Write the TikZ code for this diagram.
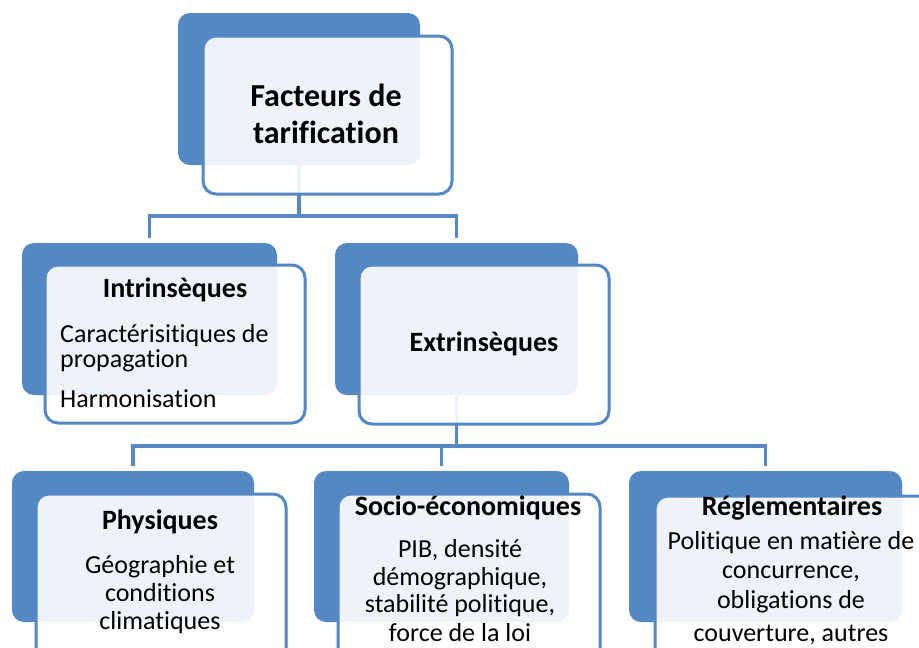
\documentclass[tikz,border=0pt]{standalone}
\usepackage{fontspec}
\setmainfont{Carlito}[Ligatures={NoCommon}]
\definecolor{boxblue}{RGB}{84,136,196}
\tikzset{
  backbox/.style={rectangle, rounded corners=12pt, fill=boxblue, draw=none, inner sep=0pt},
  frontbox/.style={rectangle, rounded corners=13pt, fill=white, fill opacity=0.9, draw=boxblue, draw opacity=1, line width=3pt, inner sep=0pt},
  conn/.style={draw=boxblue, line width=3.4pt},
  toptxt/.style={inner sep=0pt, anchor=base, font=\fontsize{32}{38}\selectfont\bfseries},
  headtxt/.style={inner sep=0pt, anchor=base, font=\fontsize{28}{34}\selectfont\bfseries},
  bodytxt/.style={inner sep=0pt, anchor=base, font=\fontsize{26}{31}\selectfont},
  bodyleft/.style={inner sep=0pt, anchor=base west, font=\fontsize{26}{31}\selectfont}
}
\begin{document}
\begin{tikzpicture}[x=1pt,y=-1pt]
\useasboundingbox (0,0) rectangle (919,648);
\clip (0,0) rectangle (919,648);
\fill[white] (0,0) rectangle (919,648);

% back boxes
\node[backbox, minimum width=242pt, minimum height=152pt] (Fb) at (299,89) {};
\node[backbox, minimum width=255pt, minimum height=152pt] (Ib) at (149.5,319) {};
\node[backbox, minimum width=243pt, minimum height=152pt] (Eb) at (456.5,319) {};
\node[backbox, minimum width=242pt, minimum height=151pt] (Pb) at (133,546.5) {};
\node[backbox, minimum width=255pt, minimum height=151pt] (Sb) at (441.5,546.5) {};
\node[backbox, minimum width=273pt, minimum height=151pt] (Rb) at (765.5,546.5) {};

% connectors
\coordinate (bus1) at (0,216);
\coordinate (bus2) at (0,446);
\draw[conn] (Fb.south) -- (Fb.south |- bus1);
\draw[conn, shorten >=5pt] (Fb.south |- bus1) -| (Ib.north);
\draw[conn, shorten >=5pt] (Fb.south |- bus1) -| (Eb.north);
\draw[conn] (Eb.south) -- (Eb.south |- bus2);
\draw[conn, shorten >=5pt] (Eb.south |- bus2) -| (Pb.north);
\draw[conn, shorten >=5pt] (Eb.south |- bus2) -| (Sb.north);
\draw[conn, shorten >=5pt] (Eb.south |- bus2) -| (Rb.north);

% front boxes
\node[frontbox, minimum width=249pt, minimum height=158pt] (Ff) at (327.5,115) {};
\node[frontbox, minimum width=260pt, minimum height=158pt] (If) at (175,344) {};
\node[frontbox, minimum width=250pt, minimum height=159pt] (Ef) at (484,344.5) {};
\node[frontbox, minimum width=250pt, minimum height=171pt] (Pf) at (161,579.5) {};
\node[frontbox, minimum width=262pt, minimum height=171pt] (Sf) at (469,579.5) {};
\node[frontbox, minimum width=280pt, minimum height=169pt] (Rf) at (795,580.5) {};

% texts
\node[toptxt] (t1) at (326,106) {Facteurs de};
\node[toptxt] (t2) at (326,143) {tarification};

\node[headtxt] (i0) at (175,297) {Intrinsèques};
\node[bodyleft] (i1) at (60,342) {Caractérisitiques de};
\node[bodyleft] (i2) at (60,367) {propagation};
\node[bodyleft] (i3) at (60,407) {Harmonisation};

\node[headtxt] (e0) at (484,351) {Extrinsèques};

\node[headtxt] (p0) at (160,529) {Physiques};
\node[bodytxt] (p1) at (160,573) {Géographie et};
\node[bodytxt] (p2) at (160,601) {conditions};
\node[bodytxt] (p3) at (160,629) {climatiques};

\node[headtxt] (s0) at (468,515) {Socio-économiques};
\node[bodytxt] (s1) at (460,557) {PIB, densité};
\node[bodytxt] (s2) at (460,585) {démographique,};
\node[bodytxt] (s3) at (460,612) {stabilité politique,};
\node[bodytxt] (s4) at (460,641) {force de la loi};

\node[headtxt] (r0) at (792,515) {Réglementaires};
\node[bodytxt] (r1) at (791,549) {Politique en matière de};
\node[bodytxt] (r2) at (791,578) {concurrence,};
\node[bodytxt] (r3) at (791,608) {obligations de};
\node[bodytxt] (r4) at (791,641) {couverture, autres};
\end{tikzpicture}
\end{document}
